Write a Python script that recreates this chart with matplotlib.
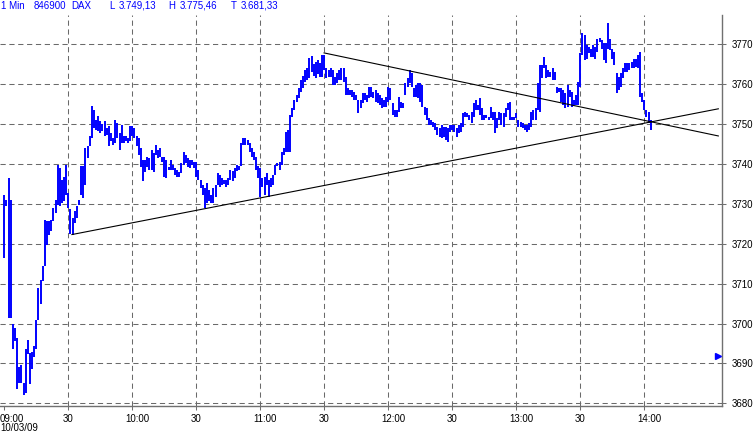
import matplotlib
matplotlib.use("Agg")
import matplotlib.pyplot as plt
import matplotlib.transforms as mtransforms
import numpy as np

# ---------------- data ----------------
# minutes after 09:00 for each 1-minute bar
highs = [
 3732.3, 3731.0, 3736.5, 3731.0, 3699.8, 3699.0, 3696.5, 3689.0, 3689.5, 3685.0,
 3693.6, 3695.8, 3692.7, 3693.0, 3694.4, 3701.0, 3709.0, 3711.0, 3714.4, 3726.0,
 3725.7, 3725.7, 3726.0, 3729.0, 3731.0, 3739.8, 3739.0, 3736.0, 3736.6, 3739.8,
 3732.7, 3728.6, 3726.5, 3728.2, 3729.4, 3731.0, 3739.4, 3739.4, 3744.0, 3744.4,
 3746.9, 3754.4, 3753.6, 3751.0, 3751.9, 3750.7, 3750.0, 3750.7, 3749.0, 3749.4,
 3747.7, 3746.5, 3751.0, 3750.2, 3747.7, 3749.8, 3746.9, 3746.9, 3746.5, 3749.4,
 3749.4, 3749.0, 3746.9, 3746.4, 3743.9, 3741.0, 3741.0, 3741.8, 3741.4, 3743.5,
 3742.7, 3744.8, 3743.5, 3743.9, 3741.8, 3741.8, 3741.0, 3739.3, 3741.0, 3739.7,
 3738.9, 3738.5, 3738.0, 3740.2, 3743.0, 3742.2, 3741.4, 3741.0, 3741.0, 3740.6,
 3740.6, 3738.5, 3736.0, 3734.8, 3733.9, 3735.2, 3733.5, 3732.3, 3733.9, 3734.8,
 3737.7, 3737.3, 3736.4, 3736.0, 3736.0, 3736.4, 3738.5, 3738.1, 3738.9, 3739.8,
 3739.4, 3745.2, 3746.4, 3746.4, 3746.0, 3745.2, 3743.9, 3743.1, 3741.8, 3739.4,
 3738.9, 3736.4, 3736.8, 3737.7, 3736.0, 3736.4, 3737.3, 3739.8, 3740.2, 3740.6,
 3743.1, 3743.9, 3748.1, 3748.5, 3752.2, 3753.9, 3756.0, 3757.2, 3759.0, 3761.0,
 3762.0, 3763.5, 3764.0, 3766.5, 3767.0, 3765.0, 3765.5, 3766.0, 3765.2, 3767.2,
 3767.2, 3763.9, 3763.5, 3763.9, 3763.5, 3761.8, 3762.7, 3763.5, 3763.9, 3763.9,
 3761.8, 3758.9, 3758.5, 3758.5, 3758.1, 3757.2, 3756.0, 3756.0, 3757.7, 3757.7,
 3757.2, 3759.3, 3759.3, 3758.1, 3758.5, 3757.7, 3757.2, 3756.4, 3756.0, 3756.8,
 3759.3, 3758.9, 3755.2, 3753.5, 3753.5, 3756.8, 3755.6, 3755.2, 3760.2, 3761.4,
 3763.5, 3762.7, 3758.9, 3759.8, 3760.2, 3760.2, 3759.8, 3754.3, 3753.9, 3751.4,
 3751.0, 3750.6, 3750.2, 3749.3, 3748.9, 3749.8, 3749.3, 3749.3, 3748.9, 3749.8,
 3749.8, 3749.8, 3748.9, 3749.8, 3750.2, 3752.7, 3753.1, 3752.7, 3752.2, 3753.1,
 3755.2, 3756.0, 3754.8, 3756.4, 3753.9, 3752.2, 3752.2, 3751.8, 3754.3, 3753.1,
 3753.1, 3751.4, 3753.1, 3752.7, 3752.7, 3753.9, 3755.2, 3755.6, 3751.8, 3751.8,
 3752.7, 3751.0, 3750.6, 3750.2, 3749.8, 3749.8, 3750.2, 3753.1, 3753.5, 3753.9,
 3760.2, 3764.7, 3764.7, 3766.8, 3764.7, 3763.5, 3763.1, 3763.9, 3763.1, 3759.3,
 3758.9, 3758.9, 3758.5, 3757.7, 3759.8, 3758.5, 3758.1, 3756.0, 3757.3, 3760.6,
 3767.7, 3772.7, 3772.2, 3769.8, 3769.3, 3768.9, 3769.8, 3769.3, 3771.4, 3771.6,
 3771.0, 3770.2, 3770.2, 3775.2, 3771.4, 3768.9, 3768.1, 3762.7, 3761.8, 3762.7,
 3763.9, 3765.2, 3765.2, 3765.2, 3765.6, 3766.4, 3766.4, 3767.2, 3768.1, 3757.7,
 3756.0, 3753.5, 3753.1, 3751.0,
]
lows = [
 3716.5, 3729.5, 3701.5, 3701.5, 3693.6, 3695.7, 3683.6, 3685.0, 3685.0, 3682.0,
 3682.7, 3692.3, 3684.8, 3688.6, 3691.5, 3693.6, 3701.0, 3705.0, 3710.7, 3714.4,
 3719.8, 3722.3, 3723.3, 3725.7, 3727.8, 3729.8, 3729.4, 3730.3, 3730.7, 3732.3,
 3729.0, 3722.5, 3722.3, 3725.3, 3726.5, 3729.8, 3732.3, 3731.5, 3734.8, 3741.5,
 3744.4, 3746.5, 3749.0, 3748.6, 3748.2, 3747.7, 3748.2, 3746.9, 3747.3, 3744.4,
 3745.7, 3744.8, 3745.2, 3746.5, 3743.6, 3745.2, 3745.2, 3745.7, 3745.2, 3745.7,
 3746.9, 3746.5, 3744.4, 3742.2, 3739.3, 3735.6, 3738.0, 3739.3, 3738.5, 3738.5,
 3738.0, 3742.2, 3741.4, 3741.8, 3740.6, 3736.8, 3736.4, 3738.5, 3738.5, 3738.5,
 3737.2, 3736.8, 3736.8, 3737.7, 3739.8, 3740.2, 3739.3, 3738.9, 3739.8, 3738.9,
 3736.8, 3736.0, 3733.9, 3732.3, 3728.9, 3730.2, 3730.6, 3730.2, 3730.2, 3731.8,
 3734.8, 3734.3, 3734.8, 3734.9, 3734.3, 3734.8, 3736.0, 3735.6, 3736.4, 3738.1,
 3738.5, 3739.4, 3744.8, 3744.8, 3744.8, 3743.1, 3741.8, 3741.0, 3738.5, 3736.4,
 3731.8, 3734.3, 3732.3, 3734.8, 3731.8, 3734.3, 3734.8, 3737.3, 3739.4, 3738.5,
 3739.8, 3742.2, 3743.1, 3743.1, 3743.1, 3751.8, 3753.5, 3755.5, 3756.5, 3758.0,
 3759.0, 3760.5, 3761.0, 3761.5, 3763.0, 3762.0, 3761.5, 3762.5, 3761.8, 3761.8,
 3763.5, 3761.4, 3761.8, 3761.8, 3759.8, 3759.8, 3760.2, 3761.0, 3761.0, 3760.6,
 3757.2, 3757.2, 3757.2, 3756.8, 3756.0, 3756.0, 3752.7, 3753.9, 3755.2, 3756.0,
 3755.6, 3756.4, 3756.8, 3756.4, 3755.6, 3755.2, 3754.8, 3753.9, 3754.3, 3754.3,
 3755.6, 3756.0, 3752.2, 3751.8, 3751.8, 3753.1, 3753.9, 3753.9, 3757.2, 3759.3,
 3760.2, 3759.3, 3756.8, 3756.8, 3756.4, 3755.6, 3754.3, 3752.2, 3751.0, 3749.8,
 3749.8, 3749.3, 3748.5, 3747.2, 3746.8, 3746.4, 3746.8, 3746.0, 3745.6, 3748.1,
 3748.5, 3748.1, 3746.8, 3747.7, 3748.1, 3749.3, 3751.8, 3751.8, 3751.0, 3750.2,
 3751.8, 3753.5, 3753.5, 3752.2, 3751.0, 3751.0, 3751.4, 3751.0, 3751.4, 3751.0,
 3747.7, 3748.9, 3751.0, 3749.8, 3749.3, 3751.8, 3753.5, 3751.0, 3751.0, 3751.0,
 3751.4, 3749.3, 3749.3, 3748.9, 3748.5, 3748.1, 3748.5, 3749.3, 3751.0, 3751.0,
 3753.5, 3753.0, 3761.4, 3763.9, 3761.4, 3761.8, 3761.8, 3761.0, 3761.0, 3757.7,
 3758.1, 3755.6, 3754.8, 3753.9, 3754.3, 3756.8, 3754.3, 3754.8, 3754.8, 3754.8,
 3759.3, 3767.2, 3766.0, 3766.4, 3767.7, 3766.8, 3766.8, 3766.4, 3768.1, 3770.6,
 3768.9, 3766.0, 3765.2, 3768.9, 3768.5, 3766.4, 3764.8, 3757.7, 3758.5, 3759.3,
 3761.4, 3763.1, 3763.1, 3763.5, 3763.9, 3763.9, 3764.3, 3763.9, 3756.8, 3755.6,
 3753.5, 3751.8, 3750.2, 3748.5,
]
minutes = list(range(len(highs)))

# trendlines (minute, price)
support_line = [(31.7, 3722.3), (334.7, 3753.8)]
resistance_line = [(149.9, 3767.8), (334.7, 3747.0)]

# marker on right edge
marker_minute = 334.6
marker_price = 3692

x_tick_minutes = [0, 30, 60, 90, 120, 150, 180, 210, 240, 270, 300]
x_tick_labels = ["09:00", "30", "10:00", "30", "11:00", "30", "12:00", "30", "13:00", "30", "14:00"]
y_ticks = [3680, 3690, 3700, 3710, 3720, 3730, 3740, 3750, 3760, 3770]
date_label = "10/03/09"
header_items = [("1 Min", 1), ("846900", 34), ("DAX", 71), ("L", 109), ("3.749,13", 119),
                ("H", 168), ("3.775,46", 180), ("T", 231), ("3.681,33", 241)]

# ---------------- figure ----------------
W, H = 753, 436
DPI = 100
plt.rcParams['font.family'] = ['Liberation Sans', 'DejaVu Sans']
fig = plt.figure(figsize=(W / DPI, H / DPI), dpi=DPI)
fig.patch.set_facecolor('white')

ax_left, ax_right, ax_top, ax_bottom = 0, 722, 15, 406
ax = fig.add_axes([ax_left / W, (H - ax_bottom) / H, (ax_right - ax_left) / W, (ax_bottom - ax_top) / H])
ax.set_facecolor('white')

ppm = 64 / 30.0
x0px = 4.3
ax.set_xlim((0 - x0px) / ppm, (ax_right - x0px) / ppm)
ax.set_ylim(3679.35, 3777.3)

grid_col = '#6a6a6a'
for yt in y_ticks:
    ax.axhline(yt, color=grid_col, lw=0.75, linestyle=(0, (5, 3.5)), zorder=1)
for xt in x_tick_minutes[1:]:
    ax.axvline(xt, color=grid_col, lw=0.75, linestyle=(0, (5, 3.5)), zorder=1)

ax.vlines(minutes, lows, highs, color='#0000ff', lw=1.4, zorder=3)

ax.plot([p[0] for p in support_line], [p[1] for p in support_line], color='black', lw=0.8, zorder=4)
ax.plot([p[0] for p in resistance_line], [p[1] for p in resistance_line], color='black', lw=0.8, zorder=4)

ax.plot([marker_minute], [marker_price], marker='>', color='#0000ff', markersize=4, zorder=5, clip_on=False)

for s in ['left', 'top']:
    ax.spines[s].set_visible(False)
for s in ['right', 'bottom']:
    ax.spines[s].set_color('#707070')
    ax.spines[s].set_linewidth(1.0)

ax.yaxis.tick_right()
ax.set_yticks(y_ticks)
ax.set_yticklabels([str(v) for v in y_ticks])
ax.tick_params(axis='y', length=3, width=0.75, color='#707070', pad=4, labelsize=7, labelcolor='black')

ax.set_xticks(x_tick_minutes)
ax.set_xticklabels(x_tick_labels)
ax.tick_params(axis='x', length=3, width=0.75, color='#707070', pad=3, labelsize=7, labelcolor='black')
for i, (lab, txt) in enumerate(zip(ax.get_xticklabels(), x_tick_labels)):
    if i == 0:
        lab.set_horizontalalignment('left')
        off = mtransforms.ScaledTranslation(-x0px / DPI, 0, fig.dpi_scale_trans)
        lab.set_transform(lab.get_transform() + off)
    elif ":" in txt:
        off = mtransforms.ScaledTranslation(5 / DPI, 0, fig.dpi_scale_trans)
        lab.set_transform(lab.get_transform() + off)

fig.text(0 / W, 1 - 428 / H, date_label, fontsize=7, ha='left', va='center', color='black')

for txt, xpx in header_items:
    fig.text(xpx / W, 1 - 6 / H, txt, fontsize=7, ha='left', va='center', color='#0000ff')

fig.savefig('out.png', dpi=DPI)
